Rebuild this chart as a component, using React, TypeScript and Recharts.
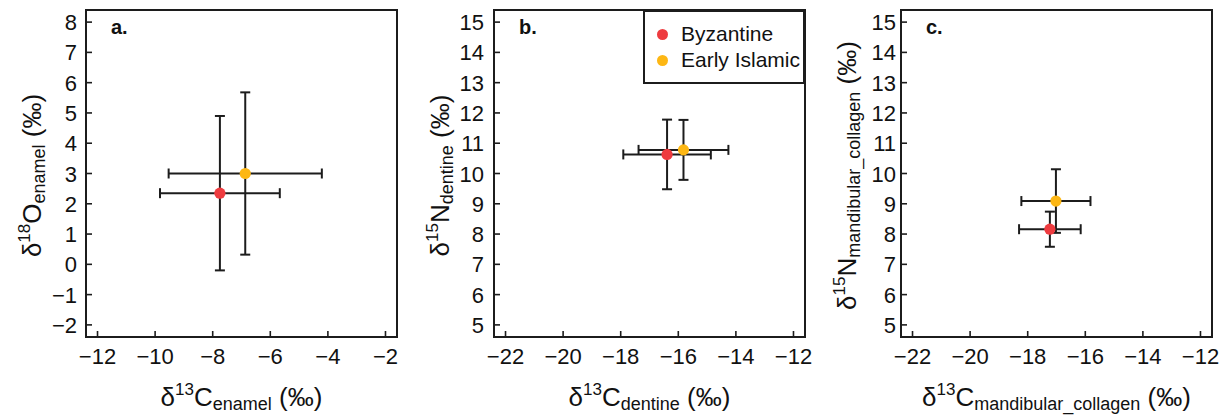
import React from 'react';
import {
  ScatterChart,
  Scatter,
  XAxis,
  YAxis,
  ErrorBar,
  ReferenceArea,
  Label,
  Legend,
} from 'recharts';

// groups (same order in every array below)
const GROUPS = ['Byzantine', 'Early Islamic'];
const GROUP_COLORS = ['#EE3B3F', '#FDB714'];

// a. enamel: mean and SD
const enamelC = [-7.75, -6.87];
const enamelCsd = [2.08, 2.66];
const enamelO = [2.35, 3.0];
const enamelOsd = [2.55, 2.68];

// b. dentine
const dentineC = [-16.39, -15.82];
const dentineCsd = [1.52, 1.56];
const dentineN = [10.63, 10.78];
const dentineNsd = [1.15, 0.99];

// c. mandibular collagen
const mandC = [-17.23, -17.02];
const mandCsd = [1.07, 1.2];
const mandN = [8.16, 9.09];
const mandNsd = [0.58, 1.05];

const xTicksA = [-12, -10, -8, -6, -4, -2];
const yTicksA = [-2, -1, 0, 1, 2, 3, 4, 5, 6, 7, 8];
const xTicksBC = [-22, -20, -18, -16, -14, -12];
const yTicksBC = [5, 6, 7, 8, 9, 10, 11, 12, 13, 14, 15];

const FONT = '"Liberation Sans", Arial, Helvetica, sans-serif';
const INK = '#1c1c1c';
const W = 410;
const H = 416;
const PLOT_L = 86;
const PLOT_T = 10;
const PLOT_W = 311;
const PLOT_B = 337;
const TICK_FS = 22;

const fmt = (v: number) => String(v).replace('-', '\u2212');

const rows = (xs: number[], xsd: number[], ys: number[], ysd: number[]) =>
  GROUPS.map((g, i) => ({ group: g, x: xs[i], ex: xsd[i], y: ys[i], ey: ysd[i] }));

type Part = { t: string; sup?: boolean; sub?: boolean };

const titleSpans = (parts: Part[]) => {
  let shift = 0;
  return parts.map((p, i) => {
    const target = p.sup ? -11 : p.sub ? 4 : 0;
    const dy = target - shift;
    shift = target;
    return (
      <tspan key={i} dy={dy} fontSize={p.sup ? 17 : p.sub ? 18 : 26} style={{ whiteSpace: 'pre' }}>
        {p.t}
      </tspan>
    );
  });
};

const XTick = (props: any) => {
  const { x, payload } = props;
  return (
    <g>
      <line x1={x} x2={x} y1={PLOT_B} y2={PLOT_B - 6} stroke={INK} strokeWidth={1.6} />
      <text x={x} y={PLOT_B + 27} textAnchor="middle" fontSize={TICK_FS} fill="#111" fontFamily={FONT}>
        {fmt(payload.value)}
      </text>
    </g>
  );
};

const makeYTick = (gap: number) => (props: any) => {
  const { y, payload } = props;
  return (
    <g>
      <line x1={PLOT_L} x2={PLOT_L + 6} y1={y} y2={y} stroke={INK} strokeWidth={1.6} />
      <text x={PLOT_L - gap} y={y + 8} textAnchor="end" fontSize={TICK_FS} fill="#111" fontFamily={FONT}>
        {fmt(payload.value)}
      </text>
    </g>
  );
};

const Dot = (props: any) => <circle cx={props.cx} cy={props.cy} r={5.6} fill={props.fill} />;
const NoDot = () => <g />;

const LegendBox = () => (
  <div
    style={{
      boxSizing: 'border-box',
      width: 162,
      height: 74,
      border: `2px solid ${INK}`,
      background: '#fff',
      paddingTop: 9,
      fontFamily: FONT,
      fontSize: 21,
      color: '#111',
    }}
  >
    {GROUPS.map((g, i) => (
      <div key={g} style={{ display: 'flex', alignItems: 'center', height: 26 }}>
        <span
          style={{
            width: 11,
            height: 11,
            borderRadius: '50%',
            background: GROUP_COLORS[i],
            marginLeft: 12,
            marginRight: 13,
          }}
        />
        <span>{g}</span>
      </div>
    ))}
  </div>
);

interface PanelProps {
  left: number;
  tag: string;
  data: { group: string; x: number; ex: number; y: number; ey: number }[];
  xDomain: [number, number];
  yDomain: [number, number];
  xTicks: number[];
  yTicks: number[];
  xTitle: Part[];
  yTitle: Part[];
  yGap: number;
  showLegend?: boolean;
}

const Panel = ({ left, tag, data, xDomain, yDomain, xTicks, yTicks, xTitle, yTitle, yGap, showLegend }: PanelProps) => {
  const YTick = makeYTick(yGap);
  return (
    <div style={{ position: 'absolute', left, top: 0 }}>
      <ScatterChart width={W} height={H} margin={{ top: PLOT_T, right: W - PLOT_L - PLOT_W, left: 0, bottom: 0 }}>
        <XAxis
          type="number"
          dataKey="x"
          domain={xDomain}
          ticks={xTicks}
          allowDataOverflow
          interval={0}
          height={H - PLOT_B}
          axisLine={false}
          tickLine={false}
          tick={XTick}
        >
          <Label
            content={() => (
              <text x={PLOT_L + PLOT_W / 2} y={PLOT_B + 69} textAnchor="middle" fill="#111" fontFamily={FONT}>
                {titleSpans(xTitle)}
              </text>
            )}
          />
        </XAxis>
        <YAxis
          type="number"
          dataKey="y"
          domain={yDomain}
          ticks={yTicks}
          allowDataOverflow
          interval={0}
          width={PLOT_L}
          axisLine={false}
          tickLine={false}
          tick={YTick}
        >
          <Label
            content={() => {
              const cy = (PLOT_T + PLOT_B) / 2 + 2;
              return (
                <text
                  x={41}
                  y={cy}
                  transform={`rotate(-90, 41, ${cy})`}
                  textAnchor="middle"
                  fill="#111"
                  fontFamily={FONT}
                >
                  {titleSpans(yTitle)}
                </text>
              );
            }}
          />
        </YAxis>
        <ReferenceArea
          x1={xDomain[0]}
          x2={xDomain[1]}
          y1={yDomain[0]}
          y2={yDomain[1]}
          fill="none"
          stroke={INK}
          strokeWidth={2}
        >
          <Label
            content={() => (
              <text x={PLOT_L + 25} y={PLOT_T + 24} fontSize={20} fontWeight="bold" fill="#111" fontFamily={FONT}>
                {tag}
              </text>
            )}
          />
        </ReferenceArea>
        {/* error bars first so every dot sits on top */}
        {data.map((d) => (
          <Scatter
            key={d.group + '-err'}
            name={d.group + '-err'}
            data={[d]}
            shape={NoDot}
            legendType="none"
            isAnimationActive={false}
          >
            <ErrorBar dataKey="ex" direction="x" width={5} stroke={INK} strokeWidth={2} isAnimationActive={false} />
            <ErrorBar dataKey="ey" direction="y" width={5} stroke={INK} strokeWidth={2} isAnimationActive={false} />
          </Scatter>
        ))}
        {data.map((d, i) => (
          <Scatter
            key={d.group}
            name={d.group}
            data={[d]}
            fill={GROUP_COLORS[i]}
            shape={Dot}
            isAnimationActive={false}
          />
        ))}
        {showLegend && (
          <Legend
            layout="horizontal"
            align="center"
            verticalAlign="middle"
            content={LegendBox}
            wrapperStyle={{ position: 'absolute', top: PLOT_T, left: PLOT_L + PLOT_W - 162, width: 162 }}
          />
        )}
      </ScatterChart>
    </div>
  );
};

export default function App() {
  return (
    <div style={{ position: 'absolute', left: 0, top: 0, width: 1232, height: 416, background: '#fff' }}>
      <Panel
        left={0}
        tag="a."
        data={rows(enamelC, enamelCsd, enamelO, enamelOsd)}
        xDomain={[-12.4, -1.6]}
        yDomain={[-2.4, 8.4]}
        xTicks={xTicksA}
        yTicks={yTicksA}
        xTitle={[{ t: 'δ' }, { t: '13', sup: true }, { t: 'C' }, { t: 'enamel', sub: true }, { t: ' (‰)' }]}
        yTitle={[{ t: 'δ' }, { t: '18', sup: true }, { t: 'O' }, { t: 'enamel', sub: true }, { t: ' (‰)' }]}
        yGap={9}
      />
      <Panel
        left={408}
        tag="b."
        data={rows(dentineC, dentineCsd, dentineN, dentineNsd)}
        xDomain={[-22.4, -11.6]}
        yDomain={[4.6, 15.4]}
        xTicks={xTicksBC}
        yTicks={yTicksBC}
        xTitle={[{ t: 'δ' }, { t: '13', sup: true }, { t: 'C' }, { t: 'dentine', sub: true }, { t: ' (‰)' }]}
        yTitle={[{ t: 'δ' }, { t: '15', sup: true }, { t: 'N' }, { t: 'dentine', sub: true }, { t: ' (‰)' }]}
        yGap={10}
        showLegend
      />
      <Panel
        left={815}
        tag="c."
        data={rows(mandC, mandCsd, mandN, mandNsd)}
        xDomain={[-22.4, -11.6]}
        yDomain={[4.6, 15.4]}
        xTicks={xTicksBC}
        yTicks={yTicksBC}
        xTitle={[
          { t: 'δ' },
          { t: '13', sup: true },
          { t: 'C' },
          { t: 'mandibular_collagen', sub: true },
          { t: ' (‰)' },
        ]}
        yTitle={[
          { t: 'δ' },
          { t: '15', sup: true },
          { t: 'N' },
          { t: 'mandibular_collagen', sub: true },
          { t: ' (‰)' },
        ]}
        yGap={5}
      />
    </div>
  );
}
